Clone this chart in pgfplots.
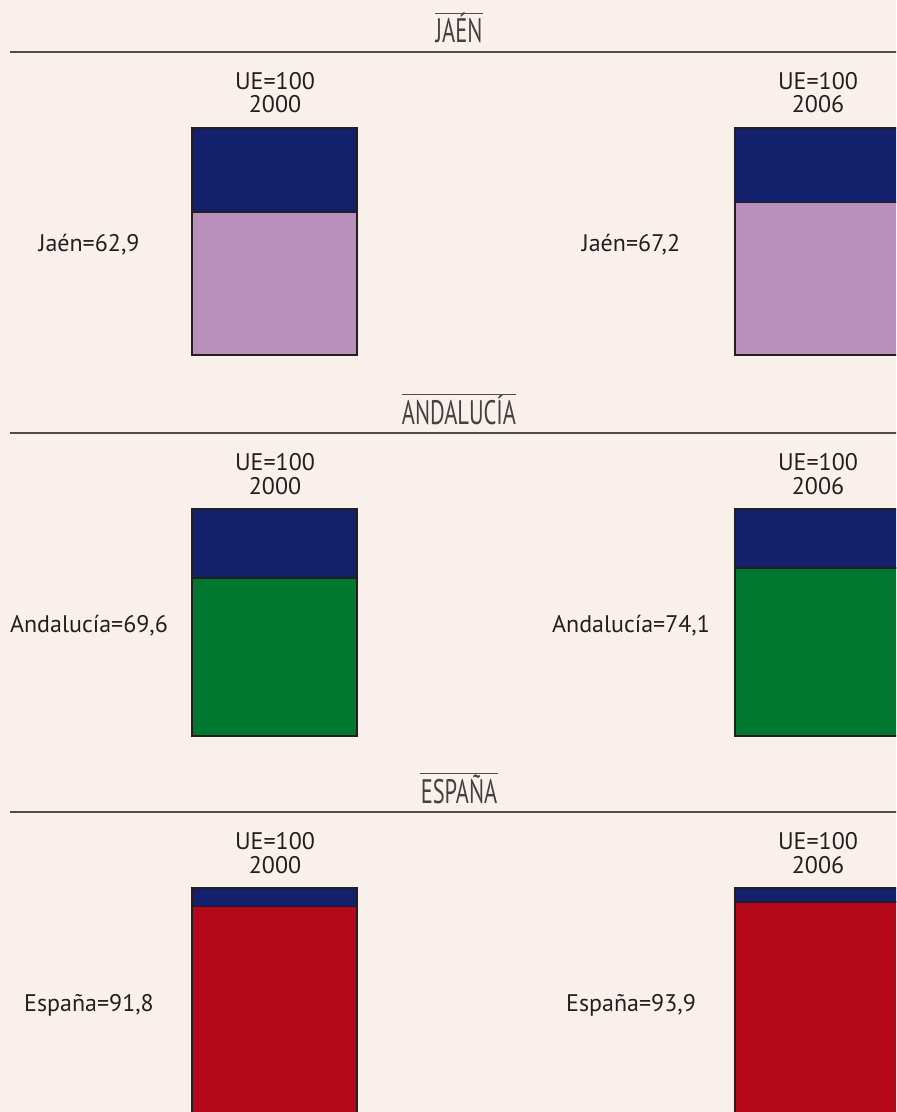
\documentclass[border=0pt]{standalone}
\usepackage{pgfplots}
\pgfplotsset{compat=1.18}
\usepackage{fontspec}
\setmainfont{PT Sans}
\definecolor{bg}{HTML}{F9F0EB}
\definecolor{navy}{HTML}{13206B}
\definecolor{lila}{HTML}{B890BB}
\definecolor{verde}{HTML}{00782F}
\definecolor{rojo}{HTML}{B5081A}
\definecolor{txt}{HTML}{231F20}
\definecolor{edge}{HTML}{231F20}
\pgfplotsset{
  secc/.style={
    scale only axis, width=448pt, height=113.5pt,
    xmin=0, xmax=896, ymin=0, ymax=100,
    axis lines=none, clip=false, anchor=south west,
    ybar stacked, bar width=165,
    every axis plot/.append style={draw=edge, line width=0.75pt},
  }
}
\begin{document}
\begin{tikzpicture}
\fill[bg] (0,0) rectangle (448pt,-556pt);
\begin{scope}
\clip (0,0) rectangle (448pt,-556pt);
% JAEN
\begin{axis}[secc, at={(0pt,-177.5pt)}]
\addplot[fill=lila] coordinates {(274.5,62.9) (817.5,67.2)};
\addplot[fill=navy] coordinates {(274.5,37.1) (817.5,32.8)};
\end{axis}
% ANDALUCIA
\begin{axis}[secc, at={(0pt,-368pt)}]
\addplot[fill=verde] coordinates {(274.5,69.6) (817.5,74.1)};
\addplot[fill=navy] coordinates {(274.5,30.4) (817.5,25.9)};
\end{axis}
% ESPANA
\begin{axis}[secc, at={(0pt,-557.5pt)}]
\addplot[fill=rojo] coordinates {(274.5,91.8) (817.5,93.9)};
\addplot[fill=navy] coordinates {(274.5,8.2) (817.5,6.1)};
\end{axis}
\begin{scope}[x=0.5pt,y=-0.5pt,text=txt,font=\fontsize{12}{14}\selectfont]
\foreach \off/\name/\la/\lb in {0/JAÉN/Jaén=62{,}9/Jaén=67{,}2, 381/ANDALUCÍA/Andalucía=69{,}6/Andalucía=74{,}1, 760/ESPAÑA/España=91{,}8/España=93{,}9}{
  \node[anchor=base, inner sep=0pt, text=txt!85] (h) at (459,43+\off) {\fontsize{17}{19}\selectfont\scalebox{0.66}[1]{\name}};
  \draw[txt!80, line width=0.6pt] (h.west |- 0,13.5+\off) -- (h.east |- 0,13.5+\off);
  \draw[txt!80, line width=0.8pt] (10,52+\off) -- (900,52+\off);
  \node[anchor=base] at (275,89.5+\off) {UE=100};
  \node[anchor=base] at (275,113+\off) {2000};
  \node[anchor=base] at (818,89.5+\off) {UE=100};
  \node[anchor=base] at (818,113+\off) {2006};
  \node[anchor=base] at (89,251.5+\off) {\la};
  \node[anchor=base] at (631,251.5+\off) {\lb};
}
\end{scope}
\end{scope}
\pgfresetboundingbox
\useasboundingbox (0,0) rectangle (448pt,-556pt);
\end{tikzpicture}
\end{document}
